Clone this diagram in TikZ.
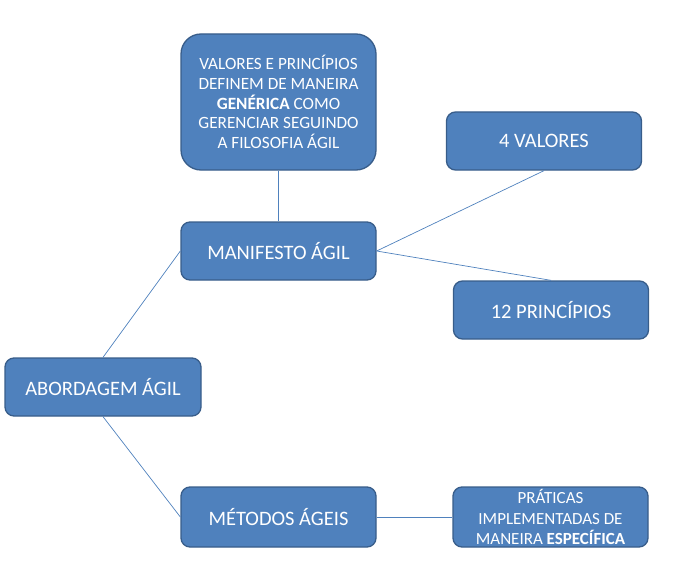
\documentclass[tikz,border=0pt]{standalone}
\usepackage{fontspec}
\setmainfont{Carlito}
\usepackage{xcolor}
\usetikzlibrary{positioning}
\definecolor{boxfill}{HTML}{4F81BD}
\definecolor{boxline}{HTML}{385D8A}
\begin{document}
\begin{tikzpicture}[
    x=1pt,y=-1pt,
    box/.style={rectangle,draw=boxline,fill=boxfill,line width=1.3pt,rounded corners=9pt,
        text=white,align=center,minimum width=195pt,minimum height=58pt,inner sep=2pt,font=\fontsize{20.5}{22}\selectfont},
    link/.style={draw=boxfill,line width=0.7pt}
]
\useasboundingbox (0,0) rectangle (674,567);
\node[box,minimum height=136pt,rounded corners=20pt,font=\fontsize{17.2}{19.6}\selectfont] (intro) at (278.5,102)
    {VALORES E PRINCÍPIOS\\DEFINEM DE MANEIRA\\\textbf{GENÉRICA} COMO\\GERENCIAR SEGUINDO\\A FILOSOFIA ÁGIL};
\node[box] (manif) at (278.5,251) {MANIFESTO ÁGIL};
\node[box] (valores) at (544,141) {4 VALORES};
\node[box] (princ) at (551,310) {12 PRINCÍPIOS};
\node[box,minimum width=196pt] (abord) at (103,387) {ABORDAGEM ÁGIL};
\node[box,minimum height=60pt] (metodos) at (278.5,517) {MÉTODOS ÁGEIS};
\node[box,minimum height=60pt,inner sep=0pt,font=\fontsize{17}{20.5}\selectfont] (prat) at (550.5,517)
    {PRÁTICAS\\IMPLEMENTADAS DE\\MANEIRA \textbf{ESPECÍFICA}};
\draw[link] (intro.south) -- (manif.north);
\draw[link] (manif.east) -- (valores.south);
\draw[link] (manif.east) -- (princ.north);
\draw[link] (abord.north) -- (manif.west);
\draw[link] (abord.south) -- (metodos.west);
\draw[link] (metodos.east) -- (prat.west);
\end{tikzpicture}
\end{document}
